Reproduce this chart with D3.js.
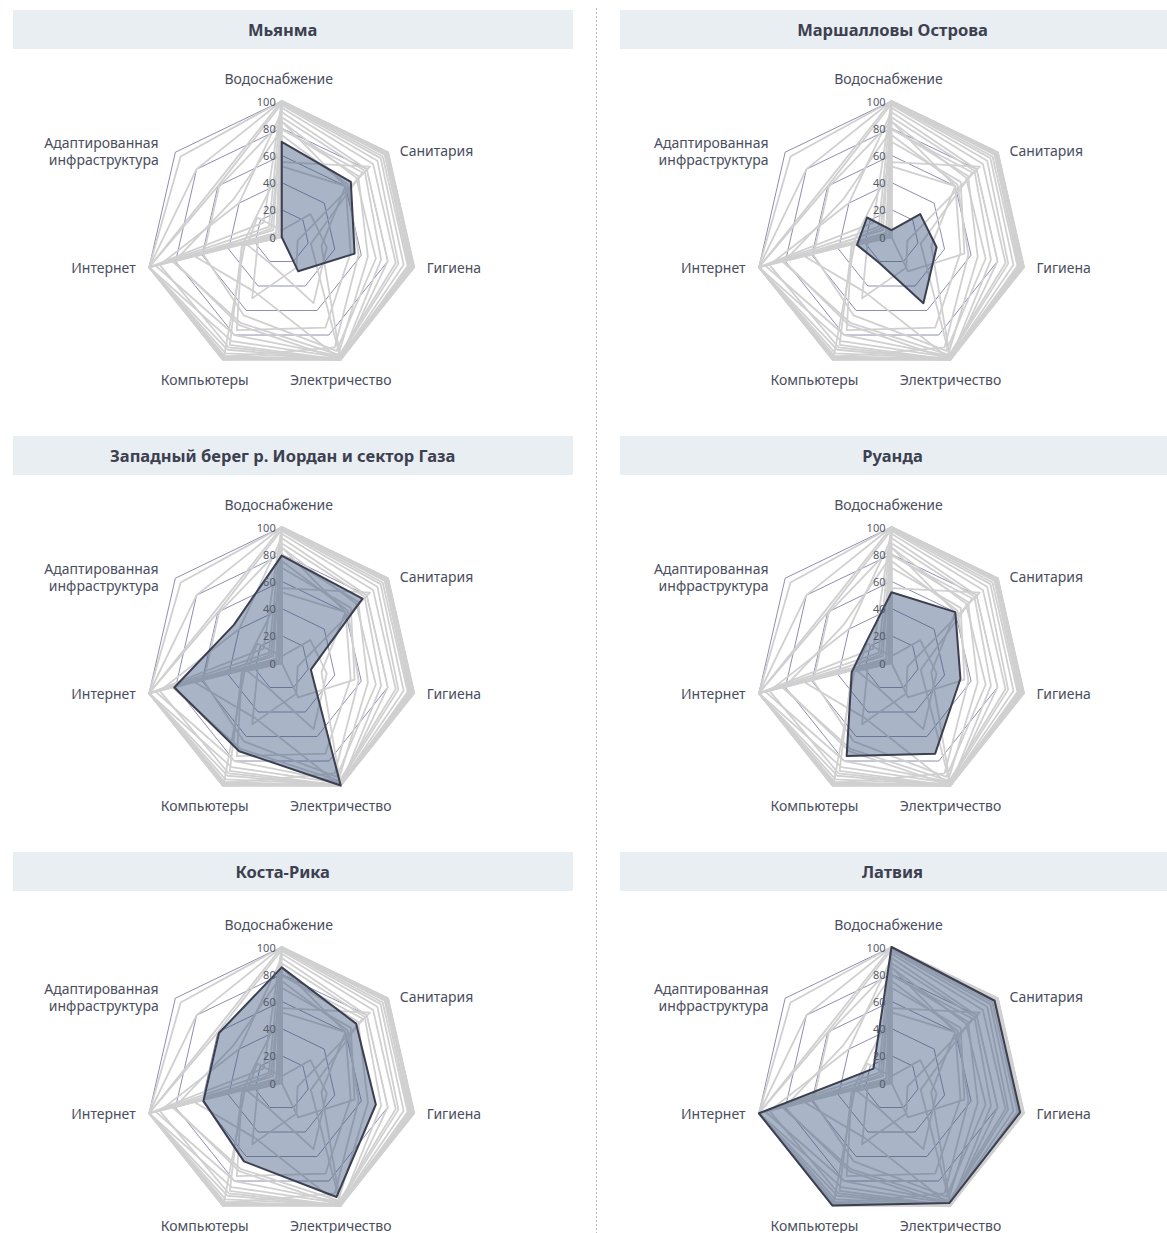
<!DOCTYPE html>
<html lang="bg">
<head>
<meta charset="utf-8">
<script src="https://cdn.jsdelivr.net/npm/d3@7"></script>
<style>
  html, body { margin: 0; padding: 0; background: #ffffff; }
  svg { display: block; font-family: "Noto Sans", "Open Sans", sans-serif; }
</style>
</head>
<body>
<svg id="chart" width="1167" height="1233"></svg>
<script>
// ---------- DATA ----------
const axes = ["Водоснабжение", "Санитария", "Гигиена", "Электричество", "Компьютеры", "Интернет", "Адаптированная инфраструктура"];
const radialTicks = [0, 20, 40, 60, 80, 100];
const gridLevels = [20, 40, 60, 80, 100];

const panelCountries = ["Мьянма", "Маршалловы Острова", "Западный берег р. Иордан и сектор Газа", "Руанда", "Коста-Рика", "Латвия"];

// values in axis order
const myanmar        = [70, 65, 55, 28, 0, 0, 0];
const marshall       = [5, 27, 34, 54, 21, 26, 23];
const westBankGaza   = [79, 76, 22, 100, 72, 81, 45];
const rwanda         = [52, 60, 52, 74, 76, 30, 24];
const costaRica      = [85, 70, 71, 93, 64, 59, 59];
const latvia         = [100, 97, 97, 98, 100, 100, 17];
const panelValues = [myanmar, marshall, westBankGaza, rwanda, costaRica, latvia];

// other countries shown only as grey outlines (estimated)
const otherCountries = [
  [100, 100, 100, 100, 100, 100, 95],
  [100, 99, 98, 100, 98, 100, 62],
  [100, 97, 96, 100, 97, 100, 5],
  [99, 95, 95, 100, 92, 100, 3],
  [98, 93, 92, 99, 95, 100, 60],
  [97, 90, 88, 98, 85, 100, 8],
  [95, 86, 86, 97, 80, 95, 2],
  [92, 80, 80, 100, 90, 92, 40],
  [88, 78, 75, 100, 88, 30, 0],
  [80, 72, 65, 96, 70, 82, 5],
  [75, 62, 58, 90, 98, 28, 0],
  [55, 83, 12, 25, 50, 18, 0],
  [100, 100, 98, 100, 100, 100, 12],
  [85, 60, 30, 100, 45, 65, 10],
  [100, 98, 99, 100, 99, 100, 80]
];

// ---------- LAYOUT ----------
const R = 136;
const colCx = [281.7, 891.5];
const rowCy = [237, 663, 1083];
const headerY = [10, 436, 852];
const headerX = [[13, 573], [620, 1180]];
const headerH = 39;

const svg = d3.select("#chart");
const r = d3.scaleLinear().domain([0, 100]).range([0, R]);
const n = axes.length;
const angle = i => i * 2 * Math.PI / n;

const radial = d3.lineRadial()
  .angle((d, i) => angle(i))
  .radius(d => r(d))
  .curve(d3.curveLinearClosed);

// divider
svg.append("line")
  .attr("x1", 596.5).attr("x2", 596.5).attr("y1", 8).attr("y2", 1233)
  .attr("stroke", "#b8b8b8").attr("stroke-width", 1).attr("stroke-dasharray", "2,2");

const labelPos = [
  {dx: -3,   dy: -159, anchor: "middle"},
  {dx: 118,  dy: -87,  anchor: "start"},
  {dx: 145,  dy: 30,   anchor: "start"},
  {dx: 59,   dy: 142,  anchor: "middle"},
  {dx: -77,  dy: 142,  anchor: "middle"},
  {dx: -146, dy: 30,   anchor: "end"},
  {dx: -123, dy: -86,  anchor: "end"}
];

panelCountries.forEach((name, k) => {
  const col = k % 2, row = Math.floor(k / 2);
  const cx = colCx[col], cy = rowCy[row];

  // header band
  svg.append("rect")
    .attr("x", headerX[col][0]).attr("y", headerY[row])
    .attr("width", headerX[col][1] - headerX[col][0]).attr("height", headerH)
    .attr("fill", "#e9eef2");
  svg.append("text")
    .attr("x", cx + 1).attr("y", headerY[row] + headerH / 2)
    .attr("text-anchor", "middle").attr("dominant-baseline", "central")
    .attr("font-size", 16.5).attr("font-weight", 700).attr("fill", "#3c4050")
    .text(name);

  const g = svg.append("g").attr("transform", `translate(${cx},${cy})`);

  // grid heptagons
  g.selectAll("path.grid").data(gridLevels).join("path")
    .attr("class", "grid")
    .attr("d", lv => radial(axes.map(() => lv)))
    .attr("fill", "none").attr("stroke", "#6e7199").attr("stroke-width", 0.8);

  // grey outlines of all other countries
  const greys = otherCountries.concat(panelValues.filter((v, j) => j !== k));
  g.selectAll("path.other").data(greys).join("path")
    .attr("class", "other")
    .attr("d", d => radial(d))
    .attr("fill", "none").attr("stroke", "#d0d0d0").attr("stroke-width", 1.8)
    .attr("stroke-linejoin", "round");

  // highlighted country
  g.append("path")
    .attr("d", radial(panelValues[k]))
    .attr("fill", "rgb(60,85,125)").attr("fill-opacity", 0.44)
    .attr("stroke", "#3b3f50").attr("stroke-width", 2).attr("stroke-linejoin", "round");

  // radial tick labels
  g.selectAll("text.tick").data(radialTicks).join("text")
    .attr("class", "tick")
    .attr("x", -6).attr("y", t => -r(t))
    .attr("text-anchor", "end").attr("dominant-baseline", "central")
    .attr("font-size", 11).attr("fill", "#555a66")
    .text(t => t);

  // axis labels
  axes.forEach((a, i) => {
    const p = labelPos[i];
    const t = g.append("text")
      .attr("x", p.dx).attr("text-anchor", p.anchor)
      .attr("font-size", 14).attr("fill", "#4a4e5e");
    const words = i === 6 ? a.split(" ") : [a];
    if (words.length === 1) {
      t.attr("y", p.dy).attr("dominant-baseline", "central").text(a);
    } else {
      words.forEach((w, j) => {
        t.append("tspan").attr("x", p.dx).attr("y", p.dy - 8.5 + j * 17)
          .attr("dominant-baseline", "central").text(w);
      });
    }
  });
});
</script>
</body>
</html>
